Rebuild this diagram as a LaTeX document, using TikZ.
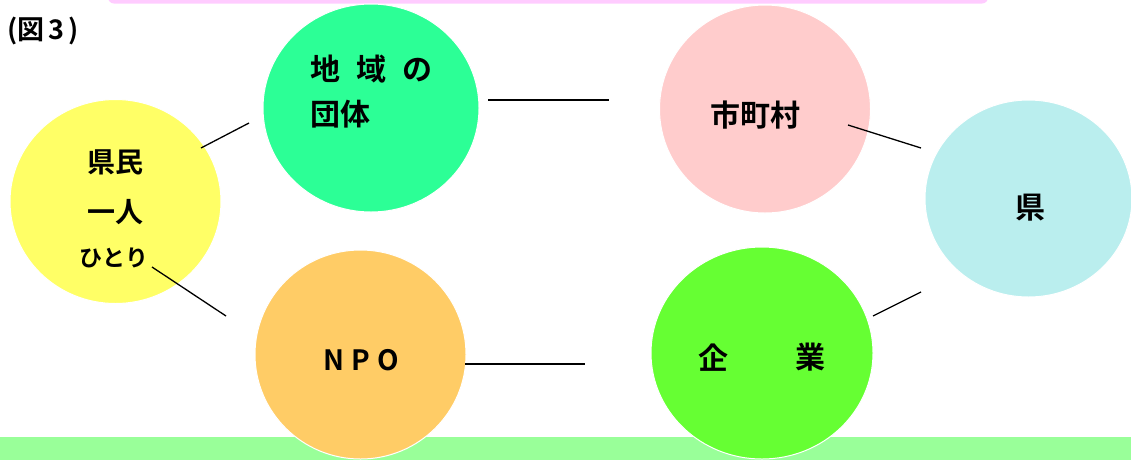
\documentclass[tikz,border=0pt]{standalone}
\usepackage{fontspec}
\usetikzlibrary{shapes.geometric}
\newfontfamily\jp{Noto Sans CJK JP}[BoldFont={Noto Sans CJK JP Bold}]
\definecolor{cGreen}{RGB}{44,255,150}
\definecolor{cPink}{RGB}{255,204,204}
\definecolor{cCyan}{RGB}{186,238,238}
\definecolor{cYellow}{RGB}{255,255,102}
\definecolor{cOrange}{RGB}{255,204,102}
\definecolor{cLime}{RGB}{102,255,51}
\definecolor{cBar}{RGB}{153,255,153}
\definecolor{cTop}{RGB}{255,204,255}
\tikzset{
  blob/.style={ellipse, draw=white, line width=1pt, inner sep=0pt},
  lbl/.style={inner sep=0pt, font=\jp\bfseries\fontsize{30}{36}\selectfont},
  small/.style={inner sep=0pt, font=\jp\bfseries\fontsize{28}{32}\selectfont},
  link/.style={draw=black, line width=1.3pt}
}
\begin{document}
\begin{tikzpicture}[x=1pt,y=-1pt]
\useasboundingbox (0,0) rectangle (1131,459);
% background bands
\fill[cTop, rounded corners=6pt] (108,-20) rectangle (988,3.5);
\fill[cBar] (0,436.5) rectangle (1131,470);
% title
\node[inner sep=0pt, anchor=west, font=\jp\bfseries\fontsize{27}{30}\selectfont] (title) at (7,31) {(図\hspace{4pt}3\hspace{4pt})};
% circles
\node[blob, fill=cYellow, minimum width=211pt, minimum height=204pt] (kenmin) at (115.5,201.5) {};
\node[blob, fill=cGreen, minimum width=216pt, minimum height=208pt] (dantai) at (371,108) {};
\node[blob, fill=cPink, minimum width=211pt, minimum height=208pt] (shichoson) at (765,109) {};
\node[blob, fill=cCyan, minimum width=207pt, minimum height=197pt] (ken) at (1028.5,198.5) {};
\node[blob, fill=cOrange, minimum width=211pt, minimum height=209pt] (npo) at (360.5,354.5) {};
\node[blob, fill=cLime, minimum width=222pt, minimum height=212pt] (kigyo) at (762,353) {};
% texts
\node[small] (t1) at (115,162) {県民};
\node[small] (t2) at (115,212) {一人};
\node[small, font=\jp\bfseries\fontsize{23}{28}\selectfont] (t3) at (114,257.5) {ひとり};
\node[lbl, anchor=west] (t4) at (310,69) {地\hspace{16pt}域\hspace{16pt}の};
\node[lbl, anchor=west] (t5) at (310,114) {団体};
\node[lbl] (t6) at (755,115) {市町村};
\node[lbl] (t7) at (1030,207.5) {県};
\node[lbl, font=\jp\bfseries\fontsize{28}{34}\selectfont] (t8) at (361,360) {N\hspace{7pt}P\hspace{7pt}O};
\node[lbl] (t9a) at (713,357.5) {企};
\node[lbl] (t9b) at (810,357.5) {業};
% connector ends
\coordinate (a1) at (201,148); \coordinate (a2) at (249,123);
\coordinate (b1) at (488,100); \coordinate (b2) at (609,100);
\coordinate (c1) at (848,125); \coordinate (c2) at (921,148);
\coordinate (d1) at (152,267); \coordinate (d2) at (226,316);
\coordinate (e1) at (465,364); \coordinate (e2) at (585,364);
\coordinate (f1) at (873,316); \coordinate (f2) at (921,292);
\draw[link] (a1) -- (a2);
\draw[link] (b1) -- (b2);
\draw[link] (c1) -- (c2);
\draw[link] (d1) -- (d2);
\draw[link] (e1) -- (e2);
\draw[link] (f1) -- (f2);
\end{tikzpicture}
\end{document}
